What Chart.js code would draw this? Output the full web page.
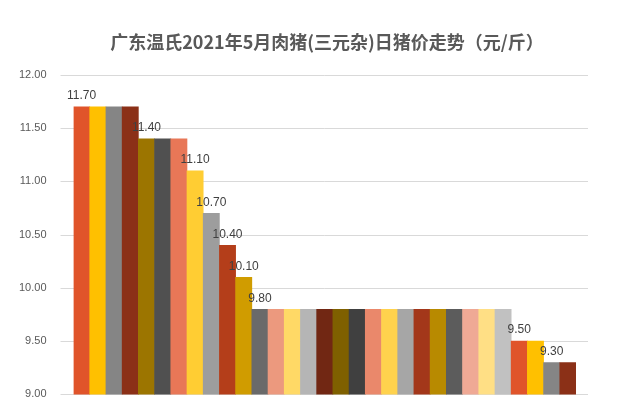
<!DOCTYPE html>
<html>
<head>
<meta charset="utf-8">
<script src="https://cdn.jsdelivr.net/npm/chart.js@4.4.0/dist/chart.umd.min.js"></script>
<style>
  body { margin: 0; background: #fff; }
  #wrap { width: 630px; height: 420px; }
</style>
</head>
<body>
<div id="wrap"><canvas id="c"></canvas></div>
<script>
const titleText = "广东温氏2021年5月肉猪(三元杂)日猪价走势（元/斤）";
const days = ["5-1","5-2","5-3","5-4","5-5","5-6","5-7","5-8","5-9","5-10","5-11","5-12","5-13","5-14","5-15","5-16",
  "5-17","5-18","5-19","5-20","5-21","5-22","5-23","5-24","5-25","5-26","5-27","5-28","5-29","5-30","5-31"];
const prices = [11.7,11.7,11.7,11.7,11.4,11.4,11.4,11.1,10.7,10.4,10.1,9.8,9.8,9.8,9.8,9.8,
  9.8,9.8,9.8,9.8,9.8,9.8,9.8,9.8,9.8,9.8,9.8,9.5,9.5,9.3,9.3];
const labelled = [0,4,7,8,9,10,11,27,29];
const colors = ["#E0542A","#FFC000","#858585","#8B3017","#9C7500","#505050","#E87757","#FFCD33","#9D9D9D",
  "#B43E1A","#D09C00","#6A6A6A","#EC997E","#FFD966","#B5B5B5","#712713","#7F6000","#404040","#EA886B",
  "#FFD24D","#A6A6A6","#A3371A","#B88A00","#5C5C5C","#EFA995","#FFDF85","#C1C1C1","#E0542A","#FFC000",
  "#858585","#8B3017"];
const yTicks = [9, 9.5, 10, 10.5, 11, 11.5, 12];

// gridlines wider than the bar area, title centred on the canvas,
// and value labels only where the price changes
const extras = {
  id: "extras",
  beforeDatasetsDraw(chart) {
    const ctx = chart.ctx, y = chart.scales.y, area = chart.chartArea;
    ctx.save();
    ctx.strokeStyle = "#D9D9D9";
    ctx.lineWidth = 1;
    yTicks.forEach(v => {
      const py = Math.round(y.getPixelForValue(v)) + 0.5;
      ctx.beginPath();
      ctx.moveTo(area.left - 13, py);
      ctx.lineTo(area.right + 12, py);
      ctx.stroke();
    });
    ctx.restore();
  },
  afterDatasetsDraw(chart) {
    const ctx = chart.ctx;
    const meta = chart.getDatasetMeta(0);
    ctx.save();
    ctx.font = "bold 18px 'Noto Sans CJK SC', sans-serif";
    ctx.fillStyle = "#595959";
    ctx.textAlign = "center";
    ctx.textBaseline = "middle";
    ctx.fillText(titleText, 327, 42);
    ctx.font = "12px 'Liberation Sans', Arial, sans-serif";
    ctx.fillStyle = "#404040";
    ctx.textBaseline = "bottom";
    labelled.forEach(i => {
      const bar = meta.data[i];
      ctx.fillText(prices[i].toFixed(2), bar.x, bar.y - 5);
    });
    ctx.restore();
  }
};

new Chart(document.getElementById("c"), {
  type: "bar",
  data: {
    labels: days,
    datasets: [{ data: prices, backgroundColor: colors, categoryPercentage: 1, barPercentage: 1 }]
  },
  options: {
    responsive: true,
    maintainAspectRatio: false,
    animation: false,
    layout: { padding: { top: 75, right: 54, bottom: 18, left: 0 } },
    scales: {
      x: { display: false },
      y: {
        min: 9, max: 12,
        afterBuildTicks(axis) { axis.ticks = yTicks.map(v => ({ value: v })); },
        ticks: { callback: v => v.toFixed(2), color: "#595959", font: { size: 11, family: "'Liberation Sans', Arial" }, padding: 19 },
        grid: { display: false },
        border: { display: false }
      }
    },
    plugins: {
      legend: { display: false },
      tooltip: { enabled: false }
    }
  },
  plugins: [extras]
});
</script>
</body>
</html>
